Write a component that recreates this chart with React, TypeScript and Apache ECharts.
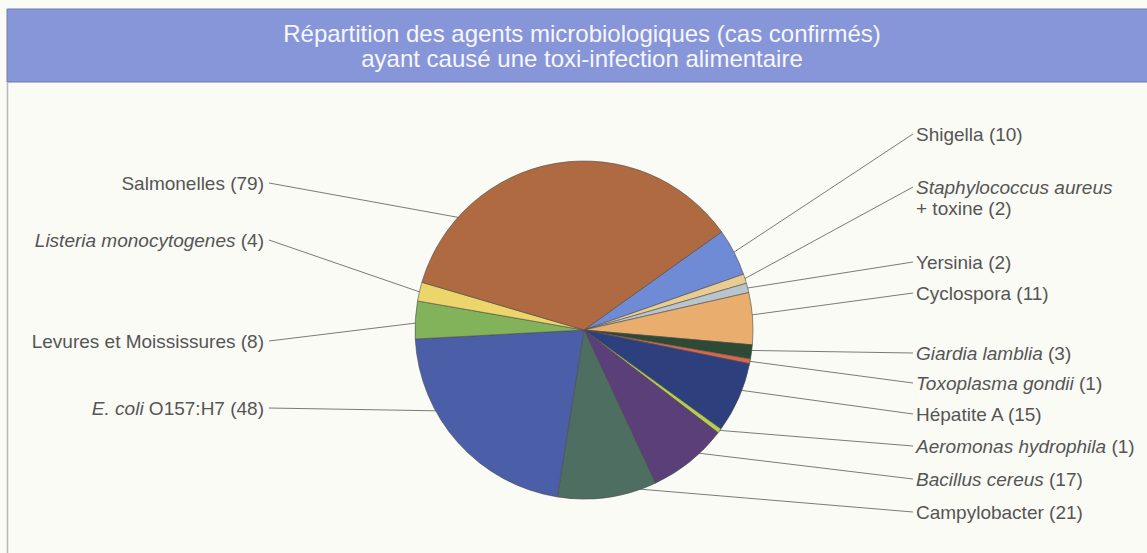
import React, { useEffect, useRef } from "react";
import * as echarts from "echarts";

const titleLines = [
  "Répartition des agents microbiologiques (cas confirmés)",
  "ayant causé une toxi-infection alimentaire",
];

const names = [
  "Shigella",
  "Staphylococcus aureus + toxine",
  "Yersinia",
  "Cyclospora",
  "Giardia lamblia",
  "Toxoplasma gondii",
  "Hépatite A",
  "Aeromonas hydrophila",
  "Bacillus cereus",
  "Campylobacter",
  "E. coli O157:H7",
  "Levures et Moississures",
  "Listeria monocytogenes",
  "Salmonelles",
];

const values = [10, 2, 2, 11, 3, 1, 15, 1, 17, 21, 48, 8, 4, 79];

const labelTexts = [
  "Shigella (10)",
  "{i|Staphylococcus aureus}\n+ toxine (2)",
  "Yersinia (2)",
  "Cyclospora (11)",
  "{i|Giardia lamblia} (3)",
  "{i|Toxoplasma gondii} (1)",
  "Hépatite A (15)",
  "{i|Aeromonas hydrophila} (1)",
  "{i|Bacillus cereus} (17)",
  "Campylobacter (21)",
  "{i|E. coli} O157:H7 (48)",
  "Levures et Moississures (8)",
  "{i|Listeria monocytogenes} (4)",
  "Salmonelles (79)",
];

const colors = [
  "#6f8bd6",
  "#e8cc92",
  "#b9c4cc",
  "#e9ae6e",
  "#2f4a34",
  "#d8684a",
  "#2e3f7e",
  "#b8cc50",
  "#5a3f78",
  "#4e6e62",
  "#4a5fa8",
  "#82b25a",
  "#ecd56a",
  "#b06a42",
];

// layout helpers (label vertical positions and where along the slice the leader line attaches)
const labelCenterY = [134, 187, 262, 293, 353, 383, 414, 446, 479, 512, 408, 341, 240, 183];
const anchorFrac = [0.5, 0.5, 0.5, 0.43, 0.4, 0.5, 0.39, 0.5, 0.35, 0.18, 0.67, 0.42, 0.48, 0.2];

const CX = 584;
const CY = 330;
const R = 169;
const START = 35.5;
const FONT = 19;
const LH = 21;

export default function App() {
  const ref = useRef<HTMLDivElement>(null);
  useEffect(() => {
    if (!ref.current) return;
    const chart = echarts.init(ref.current, undefined, { renderer: "svg" });
    const total = values.reduce((a, b) => a + b, 0);
    const cum: number[] = [];
    let acc = 0;
    for (const v of values) {
      cum.push(acc);
      acc += v;
    }
    const fontFamily = "'Liberation Sans', Arial, Helvetica, sans-serif";
    const titleStyle = {
      color: "#f6f6ff",
      fontSize: 24,
      lineHeight: 24,
      fontWeight: "normal",
      fontFamily,
    };
    chart.setOption({
      animation: false,
      backgroundColor: "#fbfbf5",
      title: {
        text: titleLines[0],
        subtext: titleLines[1],
        left: 582,
        top: 21,
        padding: 0,
        itemGap: 1,
        textAlign: "center",
        textStyle: titleStyle,
        subtextStyle: titleStyle,
      },
      graphic: [
        {
          type: "rect",
          z: -1,
          shape: { x: 7, y: 9, width: 1142, height: 73 },
          style: { fill: "#8796d8", stroke: "#6f7aa8", lineWidth: 1 },
        },
        {
          type: "line",
          shape: { x1: 7.5, y1: 82, x2: 7.5, y2: 553 },
          style: { stroke: "#b8b8b8", lineWidth: 1.5 },
        },
      ],
      series: [
        {
          type: "pie",
          center: [CX, CY],
          radius: R,
          startAngle: START,
          clockwise: true,
          avoidLabelOverlap: false,
          itemStyle: { borderColor: "#4a4a4a", borderWidth: 0.6 },
          label: {
            show: true,
            position: "outside",
            color: "#555",
            fontSize: FONT,
            lineHeight: LH,
            fontFamily,
            formatter: (p: any) => labelTexts[p.dataIndex],
            rich: {
              i: { fontStyle: "italic", color: "#555", fontSize: FONT, lineHeight: LH, fontFamily },
            },
          },
          labelLine: {
            show: true,
            smooth: false,
            lineStyle: { color: "#7a7a7a", width: 1 },
          },
          labelLayout: (params: any) => {
            const i = params.dataIndex;
            const a0 = START - (cum[i] / total) * 360;
            const span = (values[i] / total) * 360;
            const ang = ((a0 - anchorFrac[i] * span) * Math.PI) / 180;
            const ax = CX + (R - 1) * Math.cos(ang);
            const ay = CY - (R - 1) * Math.sin(ang);
            const right = Math.cos(ang) > 0;
            const ly = labelCenterY[i];
            const ex = right ? 913 : 269;
            return {
              x: right ? 916 : 264,
              y: ly - LH / 2,
              align: right ? "left" : "right",
              verticalAlign: "top",
              labelLinePoints: [
                [ax, ay],
                [ax, ay],
                [ex, ly],
              ],
            };
          },
          data: names.map((n, i) => ({
            name: n,
            value: values[i],
            itemStyle: { color: colors[i] },
          })),
        },
      ],
    });
    return () => chart.dispose();
  }, []);
  return (
    <div
      ref={ref}
      style={{ position: "fixed", left: 0, top: 0, width: 1147, height: 553 }}
    />
  );
}
